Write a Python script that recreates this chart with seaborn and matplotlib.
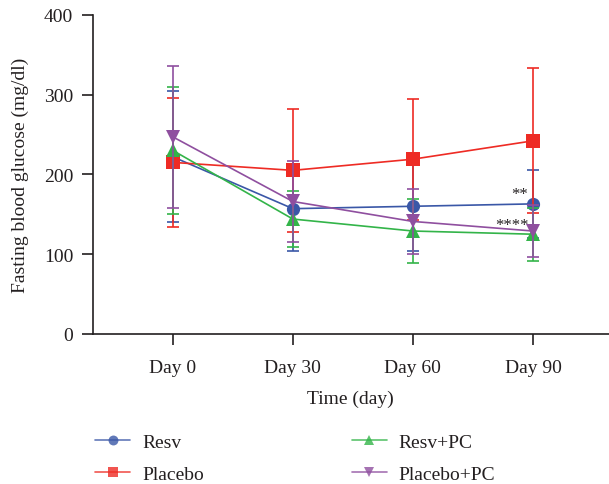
import matplotlib as mpl
mpl.use("Agg")
import matplotlib.pyplot as plt
import numpy as np
import pandas as pd
import seaborn as sns

days = ["Day 0", "Day 30", "Day 60", "Day 90"]
groups = ["Resv", "Placebo", "Resv+PC", "Placebo+PC"]

resv_mean = [222, 157, 160, 163]
resv_sd = [82, 53, 56, 43]
placebo_mean = [215, 205, 219, 242]
placebo_sd = [81, 77, 76, 91]
resvpc_mean = [230, 144, 129, 125]
resvpc_sd = [80, 35, 40, 33]
placebopc_mean = [247, 166, 141, 129]
placebopc_sd = [89, 51, 41, 32]

means = [resv_mean, placebo_mean, resvpc_mean, placebopc_mean]
sds = [resv_sd, placebo_sd, resvpc_sd, placebopc_sd]

colors = ["#3a57a7", "#ee2b24", "#33b449", "#8f4f9f"]
markers = ["o", "s", "^", "v"]

sns.set_style("ticks")
plt.rcParams['font.family'] = ['Liberation Serif', 'DejaVu Serif']
textcol = "#231f20"
fs = 14

rows = []
for g, m, s in zip(groups, means, sds):
    for i, d in enumerate(days):
        rows.append({"group": g, "x": i, "mean": m[i], "sd": s[i]})
df = pd.DataFrame(rows)

fig = plt.figure(figsize=(6.09, 4.85), dpi=100)
ax = fig.add_axes([0.1522, 0.3093, 0.8478, 0.6583])

for g, c, mk in zip(groups, colors, markers):
    sub = df[df["group"] == g]
    sns.lineplot(data=sub, x="x", y="mean", color=c, marker=mk, markersize=9.5,
                 markeredgewidth=0, linewidth=1.2, ax=ax, label=g)
    ax.errorbar(sub["x"], sub["mean"], yerr=sub["sd"], fmt="none", ecolor=c,
                elinewidth=1.2, capsize=4.5, capthick=1.2)

ax.text(3 - 0.04, 176, "**", ha="right", va="center", fontsize=12, color=textcol)
ax.text(3 - 0.04, 137, "****", ha="right", va="center", fontsize=12, color=textcol)

ax.set_xlim(-0.667, 3.633)
ax.set_ylim(0, 400)
ax.set_xticks(range(len(days)))
ax.set_xticklabels(days)
ax.set_yticks([0, 100, 200, 300, 400])
ax.set_xlabel("Time (day)", fontsize=fs, color=textcol, labelpad=10)
ax.set_ylabel("Fasting blood glucose (mg/dl)", fontsize=fs, color=textcol, labelpad=11)
ax.tick_params(axis="both", labelsize=fs, colors=textcol, length=8, width=1.2, pad=6)
ax.tick_params(axis="x", pad=10)
for sp in ["left", "bottom"]:
    ax.spines[sp].set_linewidth(1.2)
    ax.spines[sp].set_color(textcol)
sns.despine(ax=ax)

h, l = ax.get_legend_handles_labels()
ax.get_legend().remove()
leg = fig.legend(h, l, ncol=2, loc="upper left", bbox_to_anchor=(0.128, 0.14),
                 frameon=False, fontsize=fs, handlelength=1.8, handletextpad=0.6,
                 columnspacing=7.6, labelspacing=0.72, labelcolor=textcol,
                 markerscale=0.75)
for lh in leg.legend_handles:
    lh.set_alpha(0.8)

fig.savefig("out.png", dpi=100)
